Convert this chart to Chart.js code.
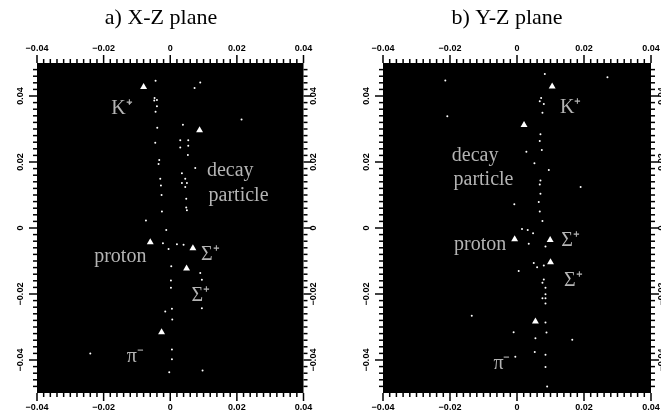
<!DOCTYPE html>
<html>
<head>
<meta charset="utf-8">
<script src="https://cdn.jsdelivr.net/npm/chart.js@4/dist/chart.umd.js"></script>
<style>
  html, body { margin: 0; padding: 0; background: #fff; overflow: hidden; }
  .panel { position: absolute; top: 0; height: 413px; }
  #panelA { left: 0; }
  #panelB { left: 331px; }
</style>
</head>
<body>
<div class="panel" id="panelA"><canvas id="chartA" width="322" height="413"></canvas></div>
<div class="panel" id="panelB"><canvas id="chartB" width="330" height="413"></canvas></div>
<script>
const tickValues = [-0.04, -0.02, 0, 0.02, 0.04];

// a) X-Z plane
const titleA = 'a) X-Z plane';
const bigA = [[-0.0080,0.0427],[0.0088,0.0296],[-0.0060,-0.0043],[0.0068,-0.0061],[0.0049,-0.0123],[-0.0026,-0.0316]];
const dotsA = [[-0.0044,0.0446],[0.0090,0.0441],[0.0073,0.0424],[-0.0047,0.0394],[-0.004,0.0388],[-0.0048,0.0386],
  [-0.0122,0.0378],[-0.004,0.0369],[-0.0044,0.0352],[0.0214,0.0329],[0.0038,0.0313],[-0.0039,0.0304],[0.003,0.0266],
  [0.0054,0.0266],[-0.0045,0.0258],[0.003,0.0244],[0.0054,0.0249],[0.0053,0.0221],[-0.0033,0.0206],[-0.0035,0.0194],
  [0.0075,0.0182],[0.0035,0.0166],[-0.003,0.0149],[0.0045,0.0149],[0.0035,0.0136],[0.005,0.0136],[-0.0028,0.0129],
  [0.0045,0.0124],[-0.0026,0.01],[0.0048,0.0089],[0.0048,0.0062],[-0.0025,0.005],[0.005,0.0054],[-0.0073,0.0023],
  [-0.0012,-0.0006],[-0.0022,-0.0046],[-0.0005,-0.0064],[0.002,-0.0049],[0.004,-0.0051],[0.0003,-0.0116],[0.009,-0.0136],
  [0.0095,-0.0157],[0.0002,-0.0159],[0.0002,-0.0181],[0.0095,-0.0243],[0.0005,-0.0245],[-0.0015,-0.0253],[0.0006,-0.0277],
  [0.0005,-0.0368],[0.0005,-0.0398],[-0.0003,-0.0437],[0.0097,-0.0432],[-0.024,-0.038]];
const labelsA = [
  ['K⁺', -0.0145, 0.0362], ['decay', 0.0180, 0.0172], ['particle', 0.0205, 0.0099],
  ['proton', -0.0150, -0.0086], ['Σ⁺', 0.0120, -0.0081], ['Σ⁺', 0.0092, -0.0205], ['π⁻', -0.0105, -0.0391]
];

// b) Y-Z plane
const titleB = 'b) Y-Z plane';
const bigB = [[0.0105,0.0429],[0.0021,0.0312],[-0.0007,-0.0034],[0.0099,-0.0036],[0.01,-0.0104],[0.0055,-0.0283]];
const dotsB = [[0.0083,0.0467],[0.027,0.0457],[-0.0214,0.0447],[0.0072,0.0394],[0.0068,0.0384],[0.008,0.0376],[0.0076,0.0349],
  [-0.0208,0.0339],[0.007,0.0284],[0.0068,0.0264],[0.0074,0.0236],[0.0028,0.0231],[0.0052,0.0196],[0.0095,0.0176],
  [0.007,0.0144],[0.0068,0.0132],[0.019,0.0124],[0.007,0.0104],[0.0065,0.0079],[-0.0008,0.0072],[0.0068,0.005],
  [0.0076,0.0021],[0.0015,-0.0003],[0.0032,-0.0006],[0.0048,-0.0016],[0.0035,-0.0048],[0.0085,-0.0056],[0.005,-0.0106],
  [0.006,-0.0119],[0.008,-0.0114],[0.0005,-0.013],[0.008,-0.0156],[0.0076,-0.0166],[0.0085,-0.0181],[0.0076,-0.0213],
  [0.0085,-0.0201],[0.0085,-0.0213],[0.0085,-0.0229],[-0.0135,-0.0266],[0.0085,-0.0286],[0.0088,-0.0317],[-0.001,-0.0316],
  [0.0055,-0.0334],[0.0165,-0.0339],[0.0053,-0.0376],[0.0085,-0.0384],[-0.0005,-0.039],[0.0085,-0.0421],[0.009,-0.048]];
const labelsB = [
  ['K⁺', 0.0160, 0.0365], ['decay', -0.0125, 0.0219], ['particle', -0.0100, 0.0146],
  ['proton', -0.0110, -0.0050], ['Σ⁺', 0.0160, -0.0040], ['Σ⁺', 0.0168, -0.0160], ['π⁻', -0.0045, -0.0410]
];

function isMajor(v) {
  return tickValues.some(t => Math.abs(t - v) < 1e-6);
}

// ticks drawn by hand so that major and minor can differ in length, with the values from the scale
const frameTicks = {
  id: 'frameTicks',
  afterDraw(chart) {
    const ctx = chart.ctx, a = chart.chartArea;
    ctx.save();
    ctx.strokeStyle = '#000';
    ctx.lineWidth = 1.5;
    ['xTop', 'xBottom', 'yLeft', 'yRight'].forEach(id => {
      const s = chart.scales[id];
      s.ticks.forEach(t => {
        const len = isMajor(t.value) ? 8 : 4;
        const p = s.getPixelForValue(t.value);
        ctx.beginPath();
        if (id === 'xTop') { ctx.moveTo(p, a.top); ctx.lineTo(p, a.top - len); }
        if (id === 'xBottom') { ctx.moveTo(p, a.bottom); ctx.lineTo(p, a.bottom + len); }
        if (id === 'yLeft') { ctx.moveTo(a.left, p); ctx.lineTo(a.left - len, p); }
        if (id === 'yRight') { ctx.moveTo(a.right, p); ctx.lineTo(a.right + len, p); }
        ctx.stroke();
      });
    });
    ctx.restore();
  }
};

// black plot background and the white annotations
const plotFace = {
  id: 'plotFace',
  beforeDatasetsDraw(chart) {
    const a = chart.chartArea;
    chart.ctx.fillStyle = '#000';
    chart.ctx.fillRect(a.left, a.top, a.width, a.height);
  },
  afterDatasetsDraw(chart, args, opts) {
    const ctx = chart.ctx;
    ctx.save();
    ctx.fillStyle = '#b4b4b4';
    ctx.font = '20px "Liberation Serif"';
    ctx.textAlign = 'center';
    ctx.textBaseline = 'middle';
    opts.items.forEach(([text, x, y]) => {
      ctx.fillText(text, chart.scales.xBottom.getPixelForValue(x), chart.scales.yLeft.getPixelForValue(y));
    });
    ctx.restore();
  }
};

function toPoints(list) {
  return list.map(([x, y]) => ({ x, y }));
}

function tickLabel(v) {
  if (Math.abs(v) < 1e-9) return '0';
  return isMajor(v) ? v.toFixed(2).replace('-', '−') : '';
}

// a mark every 0.002 between the ends of an axis
function axisTicks(from, to) {
  const out = [];
  const n = Math.round((to - from) / 0.002);
  for (let i = 0; i <= n; i++) out.push({ value: +(from + i * 0.002).toFixed(3) });
  return out;
}

const tickFont = { family: 'Liberation Sans', size: 9, weight: 'bold' };

function xAxis(position, height, padding) {
  return {
    type: 'linear', position, min: -0.04, max: 0.04,
    afterBuildTicks(s) { s.ticks = axisTicks(-0.04, 0.04); },
    afterFit(s) { s.height = height; s.paddingLeft = 0; s.paddingRight = 0; },
    border: { display: false },
    grid: { display: false, drawTicks: false },
    ticks: { autoSkip: false, maxRotation: 0, minRotation: 0, padding, color: '#000', font: tickFont, callback: tickLabel }
  };
}

function yAxis(position, width, padding) {
  return {
    type: 'linear', position, min: -0.05, max: 0.05,
    afterBuildTicks(s) { s.ticks = axisTicks(-0.048, 0.048); },
    afterFit(s) { s.width = width; s.paddingTop = 0; s.paddingBottom = 0; },
    border: { display: false },
    grid: { display: false, drawTicks: false },
    ticks: { autoSkip: false, minRotation: 90, maxRotation: 90, padding, color: '#000', crossAlign: 'center', font: tickFont, callback: tickLabel }
  };
}

function makeChart(id, title, big, dots, labels, padLeft, leftWidth, rightWidth) {
  return new Chart(document.getElementById(id), {
    type: 'scatter',
    data: {
      datasets: [
        { data: toPoints(dots), xAxisID: 'xBottom', yAxisID: 'yLeft', pointStyle: 'circle', pointRadius: 1, backgroundColor: '#fff', borderWidth: 0 },
        { data: toPoints(big), xAxisID: 'xBottom', yAxisID: 'yLeft', pointStyle: 'triangle', pointRadius: 4, backgroundColor: '#fff', borderWidth: 0 }
      ]
    },
    options: {
      responsive: false, animation: false,
      layout: { padding: { left: padLeft, right: 0, top: 0, bottom: 0 } },
      plugins: {
        legend: { display: false }, tooltip: { enabled: false },
        title: {
          display: true, text: title, color: '#000', align: 'center',
          font: { family: 'Liberation Serif', size: 22, weight: 'normal' },
          padding: { top: 5, bottom: 0 }
        },
        plotFace: { items: labels }
      },
      scales: {
        xTop: xAxis('top', 31.6, 9), xBottom: xAxis('bottom', 20, 9),
        yLeft: yAxis('left', leftWidth, 5), yRight: yAxis('right', rightWidth, -1)
      }
    },
    plugins: [plotFace, frameTicks]
  });
}

makeChart('chartA', titleA, bigA, dotsA, labelsA, 0, 37, 18.5);
makeChart('chartB', titleB, bigB, dotsB, labelsB, 22, 30, 10);
</script>
</body>
</html>
